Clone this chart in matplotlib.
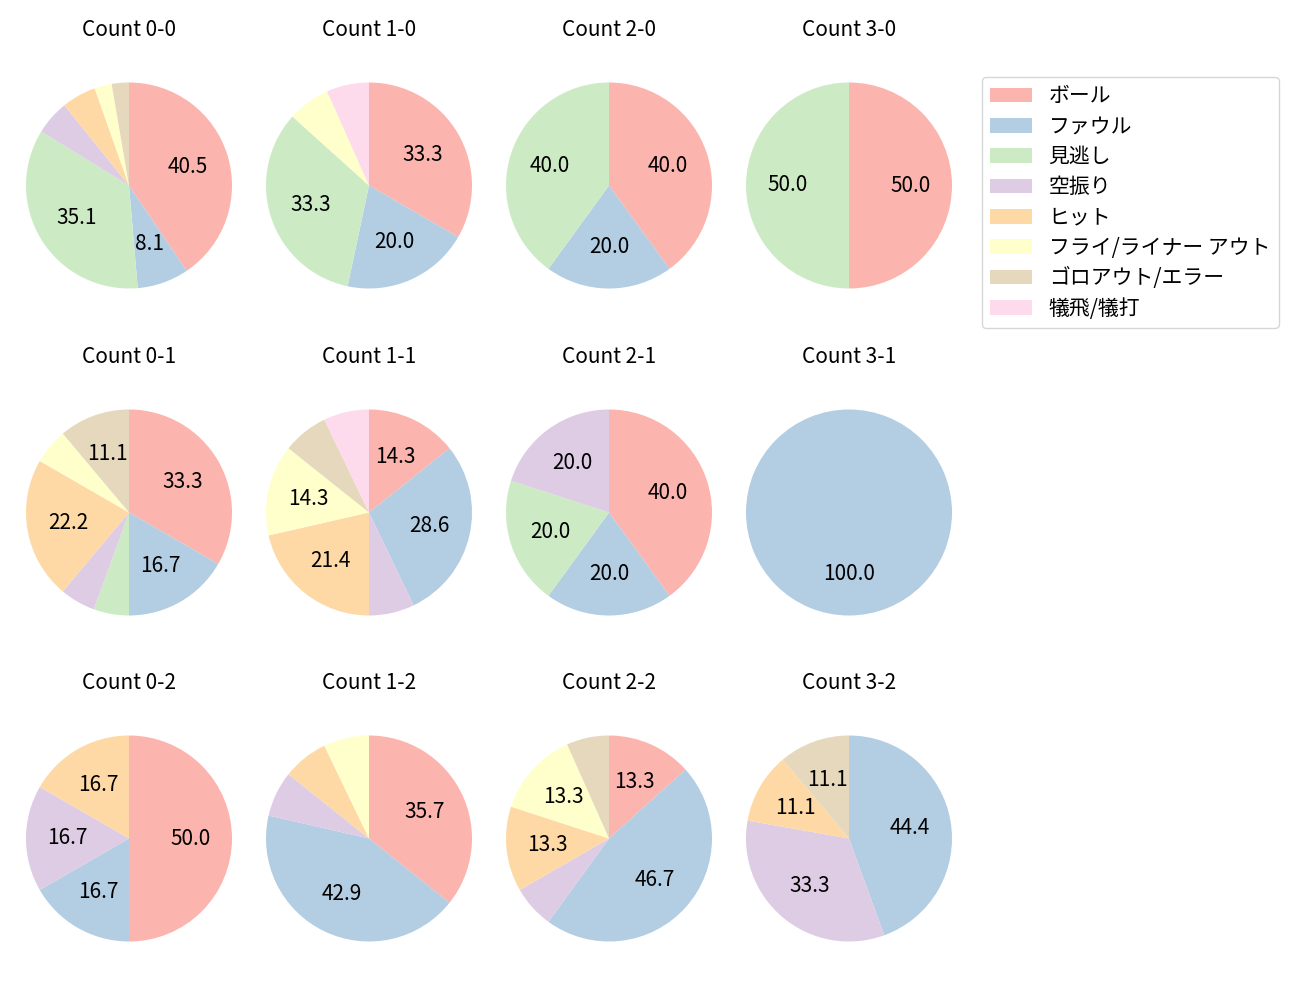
import matplotlib
matplotlib.use("Agg")
import matplotlib.pyplot as plt
import numpy as np
from matplotlib.patches import Patch

plt.rcParams['font.family'] = ['Noto Sans CJK JP', 'DejaVu Sans']

categories = ["ボール", "ファウル", "見逃し", "空振り", "ヒット",
              "フライ/ライナー アウト", "ゴロアウト/エラー", "犠飛/犠打"]

titles = ["Count 0-0", "Count 1-0", "Count 2-0", "Count 3-0",
          "Count 0-1", "Count 1-1", "Count 2-1", "Count 3-1",
          "Count 0-2", "Count 1-2", "Count 2-2", "Count 3-2"]

count_0_0 = [15, 3, 13, 2, 2, 1, 1, 0]
count_1_0 = [5, 3, 5, 0, 0, 1, 0, 1]
count_2_0 = [2, 1, 2, 0, 0, 0, 0, 0]
count_3_0 = [1, 0, 1, 0, 0, 0, 0, 0]
count_0_1 = [6, 3, 1, 1, 4, 1, 2, 0]
count_1_1 = [2, 4, 0, 1, 3, 2, 1, 1]
count_2_1 = [2, 1, 1, 1, 0, 0, 0, 0]
count_3_1 = [0, 1, 0, 0, 0, 0, 0, 0]
count_0_2 = [3, 1, 0, 1, 1, 0, 0, 0]
count_1_2 = [5, 6, 0, 1, 1, 1, 0, 0]
count_2_2 = [2, 7, 0, 1, 2, 2, 1, 0]
count_3_2 = [0, 4, 0, 3, 1, 0, 1, 0]

data = [count_0_0, count_1_0, count_2_0, count_3_0,
        count_0_1, count_1_1, count_2_1, count_3_1,
        count_0_2, count_1_2, count_2_2, count_3_2]

colors = plt.get_cmap('Pastel1').colors[:8]

W, H = 1300, 1000
fig = plt.figure(figsize=(13, 10), dpi=100)

col_cx = [129, 369, 609, 849]
row_cy = [185.5, 512.5, 838.5]
radius_px = 103
S = 2.5 * radius_px
FS = 15

def fmt(p):
    return f"{p:.1f}" if p >= 8 else ""

for i, (vals, title) in enumerate(zip(data, titles)):
    r, c = divmod(i, 4)
    cx, cy = col_cx[c], row_cy[r]
    ax = fig.add_axes([(cx - S / 2) / W, 1 - (cy + S / 2) / H, S / W, S / H])
    vals = np.array(vals, dtype=float)
    mask = vals > 0
    ax.pie(vals[mask], colors=[colors[k] for k in range(8) if mask[k]],
           startangle=90, counterclock=False, autopct=fmt,
           textprops={'fontsize': FS})
    ax.set_title(title, fontsize=FS, pad=15)

handles = [Patch(facecolor=colors[k], label=categories[k]) for k in range(8)]
fig.legend(handles=handles, loc='upper left',
           bbox_to_anchor=(982 / W, 1 - 77 / H), fontsize=FS,
           frameon=True, borderaxespad=0, labelspacing=0.4)

fig.savefig("out.png", dpi=100)
